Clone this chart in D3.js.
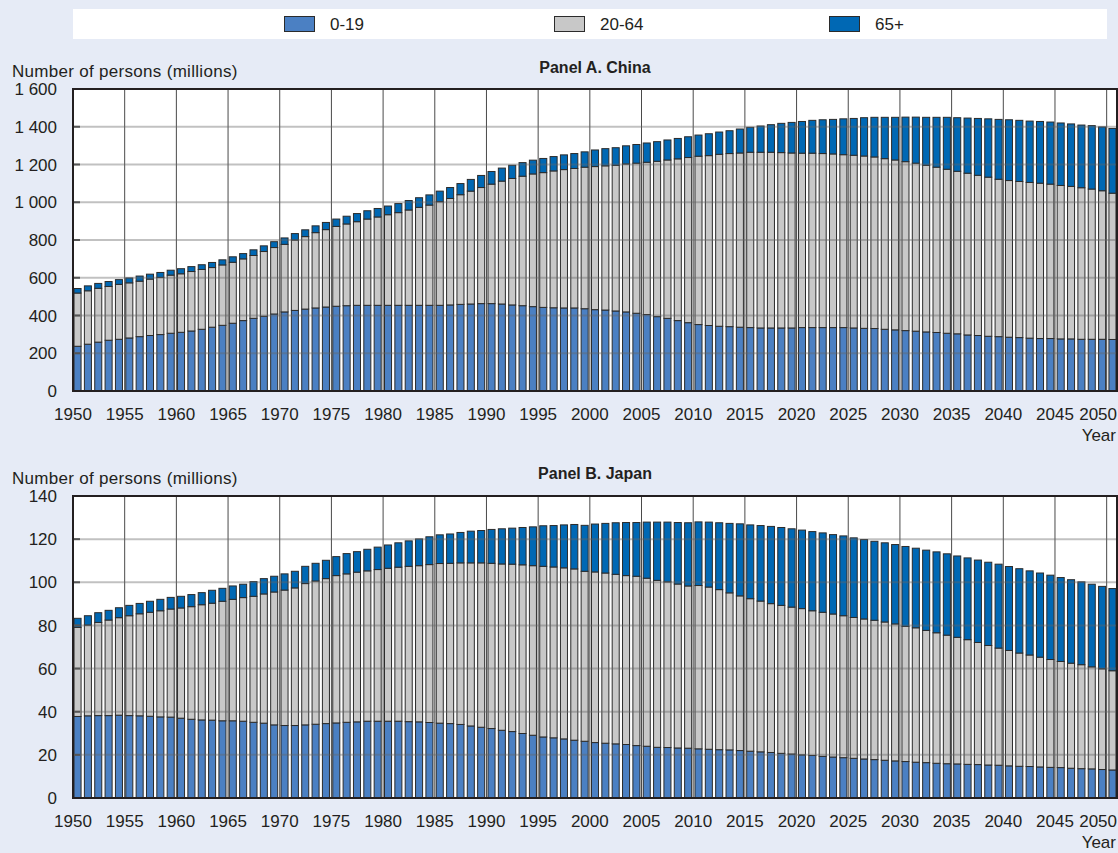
<!DOCTYPE html>
<html>
<head>
<meta charset="utf-8">
<script src="https://cdn.jsdelivr.net/npm/d3@7"></script>
<style>
  html, body { margin: 0; padding: 0; background: #e6ebf6; }
  svg { display: block; }
  text { font-family: "Liberation Sans", Arial, sans-serif; fill: #231f20; }
</style>
</head>
<body>
<svg id="chart" width="1118" height="853"></svg>
<script>
// Population by age group, millions, one bar per year 1950-2050
const years = d3.range(1950, 2051);
const seriesKeys = ["0-19", "20-64", "65+"];
const seriesColors = ["#4b80c3", "#c8c8c8", "#0068b4"];
const xTickYears = d3.range(1950, 2051, 5);

const chinaYoung = [237,248,259,269,274,281,288,294,299,306, 311,318,327,338,348,359,373,385,396,408,
  419,427,434,440,445,449,452,454,454,454, 454,454,454,454,454,454,456,459,461,463,
  463,461,456,452,447,443,441,440,440,436, 431,429,424,419,412,405,394,385,373,362,
  352,347,343,341,338,336,334,334,334,334, 336,336,336,336,336,334,332,331,327,324,
  320,317,313,310,306,303,297,294,290,288, 285,283,280,278,278,276,276,274,274,274, 273];
const chinaWorking = [282,283,285,285,291,292,294,299,303,308, 310,315,317,316,320,323,327,333,343,352,
  358,373,384,399,410,423,433,443,457,468, 480,491,505,519,531,549,564,581,598,615,
  633,651,670,686,703,714,725,733,739,750, 758,764,772,784,795,807,823,839,857,875,
  892,900,911,917,923,929,931,931,929,927, 924,924,922,920,916,915,913,909,904,900,
  895,890,883,876,869,861,857,849,843,834, 830,827,825,823,818,813,808,803,796,787, 775];
const chinaOld = [24,26,26,26,25,26,27,26,26,26, 27,26,25,27,27,29,28,30,30,31,
  34,34,36,36,38,39,41,43,44,45, 46,48,50,51,54,56,58,59,62,64,
  67,69,70,72,73,75,76,78,79,81, 88,91,93,96,99,102,104,106,108,110,
  112,116,118,121,127,132,139,146,155,162, 168,174,179,183,190,195,203,210,219,226,
  236,244,254,264,275,284,292,301,309,317, 322,324,325,327,329,331,331,332,336,338, 343];

const japanYoung = [37.8,38.1,38.2,38.2,38.4,38.2,38.1,37.9,37.6,37.5, 37.0,36.5,36.2,36.1,35.8,35.8,35.6,35.1,34.7,33.9,
  33.6,33.6,33.9,34.2,34.5,34.8,35.1,35.3,35.6,35.6, 35.6,35.6,35.4,35.3,35.0,34.7,34.5,34.1,33.4,32.8,
  32.2,31.4,30.8,29.9,29.1,28.3,27.9,27.4,26.8,26.3, 25.7,25.4,25.1,24.8,24.3,24.0,23.5,23.4,23.2,23.1,
  22.8,22.6,22.4,22.3,22.0,21.7,21.4,21.1,20.7,20.4, 20.0,19.7,19.3,19.0,18.7,18.4,18.1,17.8,17.5,17.2,
  16.9,16.6,16.4,16.1,15.9,15.8,15.6,15.5,15.3,15.2, 14.9,14.7,14.6,14.4,14.2,14.1,13.8,13.6,13.5,13.2, 13.0];
const japanWorking = [41.3,42.1,43.2,44.3,45.2,46.3,47.3,48.2,49.2,50.1, 51.1,52.2,53.4,54.2,55.4,56.3,57.3,58.4,59.9,61.6,
  62.8,63.8,65.5,66.4,67.2,68.3,68.8,69.4,69.7,70.3, 70.9,71.4,72.0,72.4,73.2,74.0,74.3,74.9,75.6,76.2,
  76.6,77.1,77.6,78.2,78.6,79.1,79.2,79.3,79.4,78.8, 79.1,78.9,78.6,78.3,78.5,77.9,77.4,76.8,76.0,75.2,
  75.7,75.2,74.2,72.8,71.7,70.7,69.9,69.0,68.6,68.1, 67.8,67.1,66.8,66.3,65.8,65.3,64.9,64.6,64.1,63.5,
  62.7,62.3,61.3,60.5,59.6,58.7,57.8,56.6,55.4,54.3, 53.5,52.5,51.7,50.9,50.0,49.2,48.7,48.2,47.3,46.7, 46.0];
const japanOld = [4.2,4.3,4.5,4.5,4.6,4.8,4.8,5.1,5.3,5.4, 5.4,5.6,5.6,6.0,6.0,6.2,6.2,6.8,7.1,7.3,
  7.5,7.7,8.0,8.2,8.5,8.8,9.4,9.5,10.0,10.4, 10.8,11.3,11.8,12.4,12.9,13.3,13.6,14.1,14.7,15.0,
  15.7,16.3,16.7,17.3,18.0,18.8,19.2,19.9,20.6,21.3, 22.2,23.0,23.9,24.6,24.9,26.0,27.0,27.7,28.5,29.3,
  29.5,30.1,31.0,32.2,33.4,34.2,35.0,35.8,36.1,36.3, 36.4,36.7,36.8,36.8,37.0,36.9,36.8,36.6,36.7,36.8,
  37.0,36.9,37.2,37.5,37.7,37.7,37.9,38.2,38.6,38.9, 38.9,39.1,39.0,39.0,39.1,38.9,38.7,38.4,38.3,38.2, 38.1];

const chinaTicks = [0, 200, 400, 600, 800, 1000, 1200, 1400, 1600];
const japanTicks = [0, 20, 40, 60, 80, 100, 120, 140];

const fmt = d3.formatLocale({ decimal: ".", thousands: " ", grouping: [3], currency: ["", ""] }).format(",");

const svg = d3.select("#chart");
svg.append("rect").attr("width", 1118).attr("height", 853).attr("fill", "#e6ebf6");

const X0 = 73, X1 = 1117;
const x = d3.scaleBand().domain(years).range([X0, X1]).paddingInner(0.32).paddingOuter(0.1);
const gridX = yr => X0 + (yr - 1950) * (X1 - X0) / years.length;

const FS = "17px";

// Legend strip
const legend = svg.append("g");
legend.append("rect").attr("x", 73).attr("y", 9).attr("width", 1034).attr("height", 30).attr("fill", "#ffffff");
const legendX = [284, 554, 829];
seriesKeys.forEach((k, i) => {
  legend.append("rect").attr("x", legendX[i] + 0.5).attr("y", 16.5).attr("width", 30).attr("height", 15)
    .attr("fill", seriesColors[i]).attr("stroke", "#2b2b2b").attr("stroke-width", 1);
  legend.append("text").attr("x", legendX[i] + 46).attr("y", 30)
    .style("font-size", FS).text(k);
});

function drawPanel(cfg) {
  const g = svg.append("g");
  const y = d3.scaleLinear().domain([0, cfg.ticks[cfg.ticks.length - 1]]).range([cfg.bottom, cfg.top]);

  const rows = years.map((yr, i) => ({ year: yr, "0-19": cfg.young[i], "20-64": cfg.working[i], "65+": cfg.old[i] }));
  const stacked = d3.stack().keys(seriesKeys)(rows);

  g.append("text").attr("x", (X0 + X1) / 2).attr("y", cfg.titleY).attr("text-anchor", "middle")
    .style("font-size", "16px").style("font-weight", "bold").text(cfg.title);
  g.append("text").attr("x", 12).attr("y", cfg.top - 12)
    .style("font-size", FS).style("letter-spacing", "0.3px").text("Number of persons (millions)");

  g.append("rect").attr("x", X0).attr("y", cfg.top).attr("width", X1 - X0).attr("height", cfg.bottom - cfg.top).attr("fill", "#fff");

  // vertical grid every five years
  g.append("g").selectAll("line").data(xTickYears.slice(1)).join("line")
    .attr("x1", d => gridX(d)).attr("x2", d => gridX(d))
    .attr("y1", cfg.top).attr("y2", cfg.bottom)
    .attr("stroke", "#4a4a4a").attr("stroke-width", 1);

  // stacked bars
  g.append("g").selectAll("g").data(stacked).join("g")
    .attr("fill", (d, i) => seriesColors[i])
    .selectAll("rect").data(d => d).join("rect")
    .attr("x", d => x(d.data.year))
    .attr("width", x.bandwidth())
    .attr("y", d => y(d[1]))
    .attr("height", d => y(d[0]) - y(d[1]))
    .attr("stroke", "#2b2b2b").attr("stroke-width", 1);

  // horizontal grid
  g.append("g").selectAll("line").data(cfg.ticks.slice(1, -1)).join("line")
    .attr("x1", X0).attr("x2", X1)
    .attr("y1", d => y(d)).attr("y2", d => y(d))
    .attr("stroke", "rgba(100,100,100,0.4)").attr("stroke-width", 2);

  // inner tick marks
  g.append("g").selectAll("line").data(cfg.ticks.slice(1, -1)).join("line")
    .attr("x1", X0).attr("x2", X0 + 7)
    .attr("y1", d => y(d)).attr("y2", d => y(d))
    .attr("stroke", "#555").attr("stroke-width", 2);

  // frame
  g.append("rect").attr("x", X0).attr("y", cfg.top).attr("width", X1 - X0).attr("height", cfg.bottom - cfg.top)
    .attr("fill", "none").attr("stroke", "#231f20").attr("stroke-width", 2);

  // y labels
  g.append("g").selectAll("text").data(cfg.ticks).join("text")
    .attr("x", 57).attr("y", d => y(d)).attr("dy", "0.36em").attr("text-anchor", "end")
    .style("font-size", FS).text(d => fmt(d));

  // x labels
  g.append("g").selectAll("text").data(xTickYears).join("text")
    .attr("x", d => d === 2050 ? X1 : gridX(d))
    .attr("y", cfg.bottom + 29)
    .attr("text-anchor", d => d === 2050 ? "end" : "middle")
    .style("font-size", FS).text(d => d);

  g.append("text").attr("x", 1116).attr("y", cfg.bottom + 50).attr("text-anchor", "end")
    .style("font-size", FS).text("Year");
}

drawPanel({ title: "Panel A. China", titleY: 73, top: 89, bottom: 391, ticks: chinaTicks,
  young: chinaYoung, working: chinaWorking, old: chinaOld });
drawPanel({ title: "Panel B. Japan", titleY: 479, top: 496, bottom: 798, ticks: japanTicks,
  young: japanYoung, working: japanWorking, old: japanOld });
</script>
</body>
</html>
